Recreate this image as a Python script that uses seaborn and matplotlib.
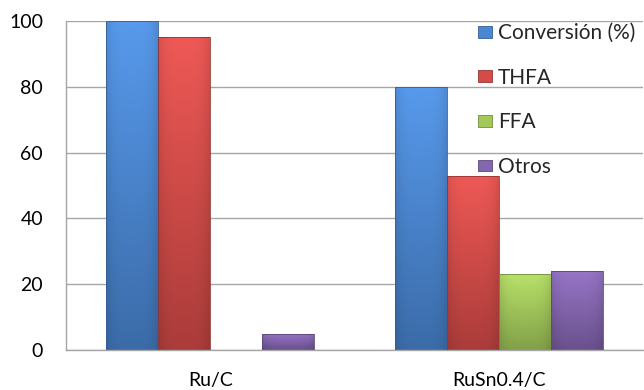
import numpy as np
import pandas as pd
import matplotlib
matplotlib.use("Agg")
import matplotlib.pyplot as plt
import matplotlib.colors as mcolors
from matplotlib.patches import Patch
import seaborn as sns

catalysts = ["Ru/C", "RuSn0.4/C"]
series = ["Conversión (%)", "THFA", "FFA", "Otros"]
conversion = [100, 80]
thfa = [95, 53]
ffa = [0, 23]
otros = [5, 24]
yticks = [0, 20, 40, 60, 80, 100]

palette = {
    "Conversión (%)": "#4A87D3",
    "THFA": "#D54B48",
    "FFA": "#A3C95A",
    "Otros": "#8465B0",
}

df = pd.DataFrame({
    "catalyst": catalysts * 4,
    "series": [s for s in series for _ in catalysts],
    "value": conversion + thfa + ffa + otros,
})

sns.set_theme(style="white")
plt.rcParams["font.family"] = ["Lato", "DejaVu Sans"]

fig = plt.figure(figsize=(6.44, 3.90), dpi=100)
ax = fig.add_axes([66 / 644, 40 / 390, 577 / 644, 329 / 390])

sns.barplot(data=df, x="catalyst", y="value", hue="series", order=catalysts,
            hue_order=series, palette=palette, width=0.72, ax=ax,
            legend=False, saturation=1, linewidth=0)

# vertical shading inside each bar, lighter at the top
for patch in ax.patches:
    x0, y0 = patch.get_x(), patch.get_y()
    w, h = patch.get_width(), patch.get_height()
    if h <= 0:
        patch.set_visible(False)
        continue
    base = np.array(mcolors.to_rgb(patch.get_facecolor()))
    top = np.clip(base * 1.08 + 0.03, 0, 1)
    bottom = base * 0.80
    t = np.linspace(0, 1, 64)[:, None]
    grad = top * (1 - t) + bottom * t
    # horizontal shading: slightly darker on the left and right edges
    s = np.linspace(0, 1, 32)
    edge = 1 - 0.10 * (np.abs(s - 0.5) * 2) ** 4
    img = grad[:, None, :] * edge[None, :, None]
    im = ax.imshow(np.clip(img, 0, 1), extent=(x0, x0 + w, y0, y0 + h),
                   aspect="auto", origin="upper", zorder=2,
                   interpolation="bilinear")
    im.set_clip_path(patch)
    patch.set_facecolor("none")
    patch.set_edgecolor(tuple(base * 0.7))
    patch.set_linewidth(0.6)
    patch.set_zorder(3)

ax.set_xlim(-0.5, 1.5)
ax.set_ylim(0, 100)
ax.set_yticks(yticks)
ax.set_yticklabels([str(v) for v in yticks])
ax.yaxis.grid(True, color="#A6A6A6", linewidth=1.0)
ax.set_axisbelow(True)
ax.set_xlabel("")
ax.set_ylabel("")
for side in ["top", "right"]:
    ax.spines[side].set_visible(False)
for side in ["left", "bottom"]:
    ax.spines[side].set_color("#A6A6A6")
    ax.spines[side].set_linewidth(1.0)
ax.tick_params(axis="both", length=0, labelsize=14, colors="#000000")
ax.tick_params(axis="y", pad=16.5)
ax.tick_params(axis="x", pad=16)

handles = [Patch(facecolor=palette[s], edgecolor=tuple(np.array(mcolors.to_rgb(palette[s])) * 0.7),
                 linewidth=0.6) for s in series]
leg = ax.legend(handles, series, loc="upper left", bbox_to_anchor=(410 / 577, 1.0),
                frameon=False, fontsize=15, handlelength=0.65, handleheight=0.5,
                handletextpad=0.3, labelspacing=1.18, borderaxespad=0.0,
                borderpad=0.1)

fig.savefig("out.png", dpi=100, facecolor="white")
